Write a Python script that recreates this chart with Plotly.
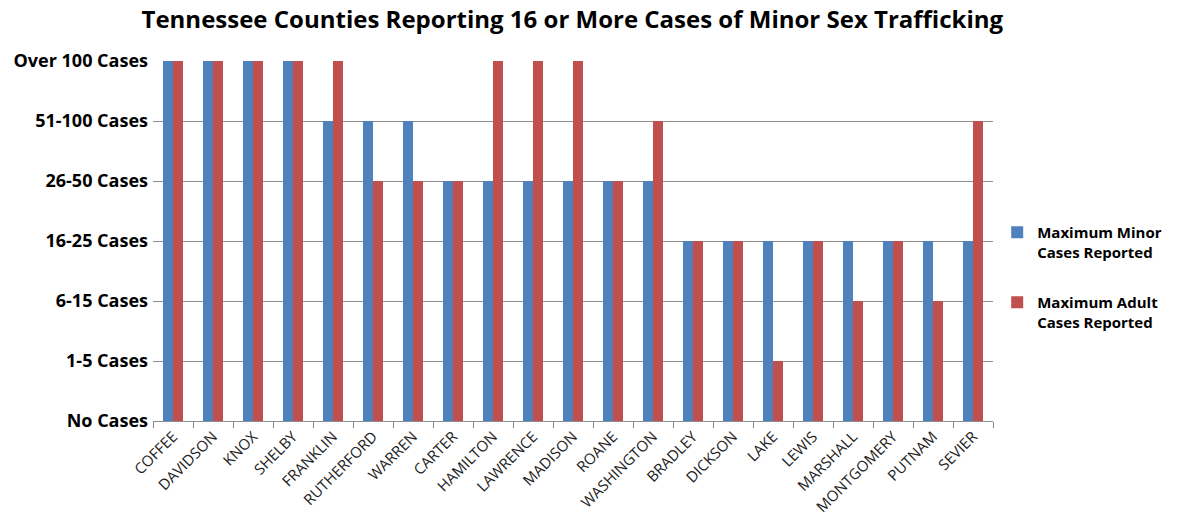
import plotly.graph_objects as go

counties = ["COFFEE", "DAVIDSON", "KNOX", "SHELBY", "FRANKLIN", "RUTHERFORD", "WARREN",
            "CARTER", "HAMILTON", "LAWRENCE", "MADISON", "ROANE", "WASHINGTON", "BRADLEY",
            "DICKSON", "LAKE", "LEWIS", "MARSHALL", "MONTGOMERY", "PUTNAM", "SEVIER"]
minor_level = [6, 6, 6, 6, 5, 5, 5, 4, 4, 4, 4, 4, 4, 3, 3, 3, 3, 3, 3, 3, 3]
adult_level = [6, 6, 6, 6, 6, 4, 4, 4, 6, 6, 6, 4, 5, 3, 3, 1, 3, 2, 3, 2, 5]
level_labels = ["No Cases", "1-5 Cases", "6-15 Cases", "16-25 Cases",
                "26-50 Cases", "51-100 Cases", "Over 100 Cases"]

fig = go.Figure()
fig.add_trace(go.Bar(x=counties, y=minor_level, name="<b>Maximum Minor<br>Cases Reported</b>",
                     legendgroup="minor",
                     marker=dict(color="#4F81BD", line=dict(width=0))))
fig.add_trace(go.Bar(x=counties, y=adult_level, name="<b>Maximum Adult<br>Cases Reported</b>",
                     legendgroup="adult",
                     marker=dict(color="#C0504D", line=dict(width=0))))

fig.update_layout(
    width=1180, height=521,
    margin=dict(l=153, r=187, t=61, b=100, autoexpand=False),
    paper_bgcolor="white", plot_bgcolor="white",
    barmode="group", bargap=0.5, bargroupgap=0,
    title=dict(text="<b>Tennessee Counties Reporting 16 or More Cases of Minor Sex Trafficking</b>",
               x=0.485, xanchor="center", y=0.962, yanchor="middle",
               font=dict(family="Open Sans", size=24, color="black")),
    font=dict(family="Open Sans", color="black"),
    legend=dict(x=1.005, y=0.40, xanchor="left", yanchor="middle",
                font=dict(family="Open Sans", size=15, color="black"),
                traceorder="grouped", tracegroupgap=28, valign="top"),
    showlegend=True,
)
fig.update_xaxes(type="category", showline=True, linecolor="#8c8c8c", linewidth=1,
                 ticks="outside", tickson="boundaries", ticklen=6, tickcolor="#8c8c8c",
                 tickangle=-45, tickfont=dict(family="Open Sans", size=15, color="#222222"),
                 showgrid=False, automargin=False)
fig.update_yaxes(range=[0, 6], tickmode="array", tickvals=list(range(7)),
                 ticktext=[f"<b>{t}</b>" for t in level_labels],
                 showgrid=True, gridcolor="#8c8c8c", gridwidth=1, zeroline=False,
                 ticks="", ticklabelstandoff=4, automargin=False,
                 tickfont=dict(family="Open Sans", size=18, color="black"), showline=False)

fig.write_html("out.html")
